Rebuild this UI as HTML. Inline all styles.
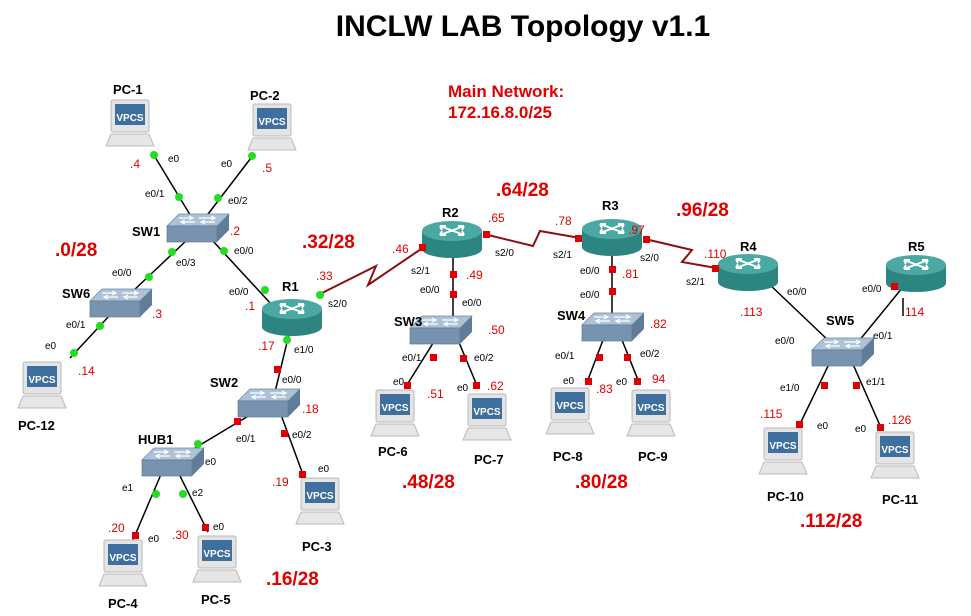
<!DOCTYPE html>
<html><head><meta charset="utf-8"><style>
html,body{margin:0;padding:0;background:#fff}
svg{display:block;font-family:"Liberation Sans",Arial,sans-serif}
.t{font-size:10px;fill:#000}
.ip{font-size:12px;fill:#e00000}
.big{font-size:19px;font-weight:bold;fill:#e00000}
.lb{font-size:13px;font-weight:bold;fill:#000}
.v{font-size:10px;font-weight:bold;fill:#fff;text-anchor:middle}
.g{fill:#22dd22}
.r{fill:#e00000}
</style></head><body>
<svg width="971" height="616" viewBox="0 0 971 616" xmlns="http://www.w3.org/2000/svg">
<defs>
<g id="pc">
<rect x="6" y="0" width="38" height="32" rx="2" fill="#e4e4e4" stroke="#b8b8b8"/>
<rect x="10" y="4" width="30" height="21" fill="#3f6f9f"/>
<polygon points="1,46 49,46 44,34 6,34" fill="#e6e6e6" stroke="#bbb"/>
</g>
<g id="sw">
<polygon points="-30,-6 -18,-18 32,-18 20,-6" fill="#adc2d6" stroke="#6d87a1" stroke-width="0.7"/>
<rect x="-30" y="-6" width="50" height="16" fill="#7893b0" stroke="#5f7a95" stroke-width="0.7"/>
<polygon points="20,-6 32,-18 32,-2 20,10" fill="#5f7c99"/>
<path d="M-18,-14 h14 M-8,-16 l4,2 -4,2 M2,-14 h16 M14,-16 l4,2 -4,2 M-16,-10 h14 M-12,-12 l-4,2 4,2 M4,-10 h14 M8,-12 l-4,2 4,2" stroke="#fff" stroke-width="1.2" fill="none"/>
</g>
<g id="rt">
<path d="M-30,-7 v18 a30,9 0 0 0 60,0 v-18 z" fill="#2d8582"/>
<ellipse cx="0" cy="-7" rx="30" ry="10" fill="#4ba8a3"/>
<path d="M-12,-12 l24,9 M12,-12 l-24,9 M-12,-12 l6,0 M-12,-12 l2,4 M12,-3 l-6,0 M12,-3 l-2,-4 M12,-12 l-6,0 M12,-12 l-2,4 M-12,-3 l6,0 M-12,-3 l2,-4" stroke="#fff" stroke-width="2" fill="none"/>
</g>
</defs>

<text x="523" y="36" text-anchor="middle" style="font-size:30px;font-weight:bold">INCLW LAB Topology v1.1</text>
<text x="448" y="97" style="font-size:17px;font-weight:bold;fill:#e00000">Main Network:</text>
<text x="448" y="118" style="font-size:17px;font-weight:bold;fill:#e00000">172.16.8.0/25</text>

<g stroke="#000" stroke-width="1.5" fill="none">
<line x1="152" y1="152" x2="192" y2="218"/>
<line x1="254" y1="154" x2="205" y2="218"/>
<line x1="187" y1="240" x2="132" y2="292"/>
<line x1="212" y1="240" x2="272" y2="305"/>
<line x1="110" y1="315" x2="70" y2="358"/>
<line x1="290" y1="330" x2="275" y2="392"/>
<line x1="453" y1="252" x2="453" y2="318"/>
<line x1="612" y1="250" x2="612" y2="315"/>
<line x1="435" y1="340" x2="405" y2="388"/>
<line x1="458" y1="340" x2="478" y2="388"/>
<line x1="603" y1="340" x2="586" y2="385"/>
<line x1="622" y1="340" x2="640" y2="385"/>
<line x1="768" y1="283" x2="830" y2="342"/>
<line x1="903" y1="287" x2="858" y2="342"/>
<line x1="830" y1="362" x2="798" y2="428"/>
<line x1="852" y1="362" x2="882" y2="430"/>
<line x1="255" y1="412" x2="195" y2="448"/>
<line x1="280" y1="412" x2="305" y2="480"/>
<line x1="162" y1="472" x2="133" y2="540"/>
<line x1="178" y1="472" x2="208" y2="532"/>
</g>
<line x1="903" y1="298" x2="903" y2="316" stroke="#000" stroke-width="1.5"/>
<g stroke="#8b1010" stroke-width="2" fill="none">
<polyline points="318,295 376,266 368,285 424,247"/>
<polyline points="484,234 533,246 540,231 580,238"/>
<polyline points="645,239 692,250 682,262 716,268"/>
</g>

<use href="#sw" x="197" y="232"/>
<use href="#sw" x="120" y="307"/>
<use href="#sw" x="268" y="407"/>
<use href="#sw" x="440" y="334"/>
<use href="#sw" x="612" y="331"/>
<use href="#sw" x="842" y="356"/>
<use href="#sw" x="172" y="466"/>
<use href="#rt" x="292" y="316"/>
<use href="#rt" x="452" y="238"/>
<use href="#rt" x="612" y="236"/>
<use href="#rt" x="748" y="271"/>
<use href="#rt" x="916" y="272"/>

<use href="#pc" x="105" y="100"/><text class="v" x="130" y="121">VPCS</text>
<use href="#pc" x="247" y="104"/><text class="v" x="272" y="125">VPCS</text>
<use href="#pc" x="17" y="362"/><text class="v" x="42" y="383">VPCS</text>
<use href="#pc" x="370" y="390"/><text class="v" x="395" y="411">VPCS</text>
<use href="#pc" x="462" y="394"/><text class="v" x="487" y="415">VPCS</text>
<use href="#pc" x="545" y="388"/><text class="v" x="570" y="409">VPCS</text>
<use href="#pc" x="626" y="390"/><text class="v" x="651" y="411">VPCS</text>
<use href="#pc" x="758" y="428"/><text class="v" x="783" y="449">VPCS</text>
<use href="#pc" x="870" y="432"/><text class="v" x="895" y="453">VPCS</text>
<use href="#pc" x="295" y="478"/><text class="v" x="320" y="499">VPCS</text>
<use href="#pc" x="98" y="540"/><text class="v" x="123" y="561">VPCS</text>
<use href="#pc" x="192" y="536"/><text class="v" x="217" y="557">VPCS</text>

<g class="g">
<circle cx="154" cy="155" r="4"/><circle cx="179" cy="197" r="4"/>
<circle cx="252" cy="156" r="4"/><circle cx="218" cy="198" r="4"/>
<circle cx="172" cy="252" r="4"/><circle cx="149" cy="277" r="4"/>
<circle cx="224" cy="251" r="4"/><circle cx="265" cy="290" r="4"/>
<circle cx="100" cy="326" r="4"/><circle cx="74" cy="353" r="4"/>
<circle cx="320" cy="295" r="4"/><circle cx="287" cy="340" r="4"/>
<circle cx="198" cy="444" r="4"/><circle cx="156" cy="494" r="4"/><circle cx="183" cy="494" r="4"/>
</g>
<g class="r">
<rect x="274" y="366" width="7" height="7"/>
<rect x="419" y="244" width="7" height="7"/>
<rect x="483" y="231" width="7" height="7"/><rect x="575" y="235" width="7" height="7"/>
<rect x="450" y="271" width="7" height="7"/><rect x="450" y="291" width="7" height="7"/>
<rect x="609" y="266" width="7" height="7"/><rect x="609" y="288" width="7" height="7"/>
<rect x="643" y="236" width="7" height="7"/><rect x="712" y="265" width="7" height="7"/>
<rect x="430" y="354" width="7" height="7"/><rect x="404" y="382" width="7" height="7"/>
<rect x="460" y="355" width="7" height="7"/><rect x="473" y="382" width="7" height="7"/>
<rect x="596" y="354" width="7" height="7"/><rect x="585" y="378" width="7" height="7"/>
<rect x="624" y="354" width="7" height="7"/><rect x="634" y="378" width="7" height="7"/>
<rect x="821" y="382" width="7" height="7"/><rect x="796" y="421" width="7" height="7"/>
<rect x="853" y="382" width="7" height="7"/><rect x="877" y="424" width="7" height="7"/>
<rect x="891" y="283" width="7" height="7"/>
<rect x="234" y="418" width="7" height="7"/>
<rect x="281" y="430" width="7" height="7"/><rect x="299" y="471" width="7" height="7"/>
<rect x="132" y="532" width="7" height="7"/><rect x="202" y="524" width="7" height="7"/>
</g>

<g class="lb">
<text x="113" y="94">PC-1</text><text x="250" y="100">PC-2</text>
<text x="132" y="236">SW1</text><text x="62" y="298">SW6</text>
<text x="18" y="430">PC-12</text><text x="282" y="291">R1</text>
<text x="210" y="387">SW2</text><text x="138" y="444">HUB1</text>
<text x="302" y="551">PC-3</text><text x="108" y="608">PC-4</text><text x="201" y="604">PC-5</text>
<text x="442" y="217">R2</text><text x="602" y="210">R3</text>
<text x="740" y="251">R4</text><text x="908" y="251">R5</text>
<text x="394" y="326">SW3</text><text x="557" y="320">SW4</text><text x="826" y="325">SW5</text>
<text x="378" y="456">PC-6</text><text x="474" y="464">PC-7</text>
<text x="553" y="461">PC-8</text><text x="638" y="461">PC-9</text>
<text x="767" y="501">PC-10</text><text x="882" y="504">PC-11</text>
</g>

<g class="t">
<text x="168" y="162">e0</text><text x="145" y="197">e0/1</text>
<text x="221" y="167">e0</text><text x="228" y="204">e0/2</text>
<text x="234" y="254">e0/0</text><text x="176" y="266">e0/3</text>
<text x="112" y="276">e0/0</text><text x="229" y="295">e0/0</text>
<text x="328" y="307">s2/0</text><text x="66" y="328">e0/1</text>
<text x="45" y="349">e0</text><text x="294" y="353">e1/0</text>
<text x="282" y="383">e0/0</text><text x="236" y="442">e0/1</text>
<text x="292" y="438">e0/2</text><text x="205" y="465">e0</text>
<text x="122" y="491">e1</text><text x="192" y="496">e2</text>
<text x="318" y="472">e0</text><text x="148" y="542">e0</text><text x="213" y="530">e0</text>
<text x="411" y="274">s2/1</text><text x="495" y="256">s2/0</text>
<text x="420" y="293">e0/0</text><text x="462" y="306">e0/0</text>
<text x="402" y="361">e0/1</text><text x="474" y="361">e0/2</text>
<text x="393" y="385">e0</text><text x="457" y="391">e0</text>
<text x="553" y="258">s2/1</text><text x="640" y="261">s2/0</text>
<text x="580" y="274">e0/0</text><text x="580" y="298">e0/0</text>
<text x="555" y="359">e0/1</text><text x="640" y="357">e0/2</text>
<text x="563" y="384">e0</text><text x="616" y="385">e0</text>
<text x="686" y="285">s2/1</text><text x="787" y="295">e0/0</text>
<text x="775" y="344">e0/0</text><text x="862" y="292">e0/0</text>
<text x="873" y="339">e0/1</text><text x="780" y="391">e1/0</text>
<text x="866" y="385">e1/1</text><text x="817" y="429">e0</text><text x="855" y="432">e0</text>
</g>

<g class="ip">
<text x="130" y="168">.4</text><text x="262" y="172">.5</text>
<text x="230" y="235">.2</text><text x="152" y="318">.3</text>
<text x="245" y="310">.1</text><text x="316" y="280">.33</text>
<text x="78" y="375">.14</text><text x="258" y="350">.17</text>
<text x="302" y="413">.18</text><text x="272" y="486">.19</text>
<text x="108" y="532">.20</text><text x="172" y="539">.30</text>
<text x="392" y="253">.46</text><text x="488" y="222">.65</text>
<text x="466" y="279">.49</text><text x="488" y="334">.50</text>
<text x="427" y="398">.51</text><text x="487" y="390">.62</text>
<text x="555" y="225">.78</text><text x="628" y="234">.97</text>
<text x="622" y="278">.81</text><text x="650" y="328">.82</text>
<text x="596" y="393">.83</text><text x="652" y="383">94</text>
<text x="704" y="258">.110</text><text x="740" y="316">.113</text>
<text x="905" y="316">114</text><text x="760" y="418">.115</text>
<text x="888" y="424">.126</text>
</g>

<g class="big">
<text x="55" y="256">.0/28</text><text x="302" y="248">.32/28</text>
<text x="496" y="196">.64/28</text><text x="676" y="216">.96/28</text>
<text x="402" y="488">.48/28</text><text x="575" y="488">.80/28</text>
<text x="800" y="527">.112/28</text><text x="266" y="585">.16/28</text>
</g>
</svg>
</body></html>
